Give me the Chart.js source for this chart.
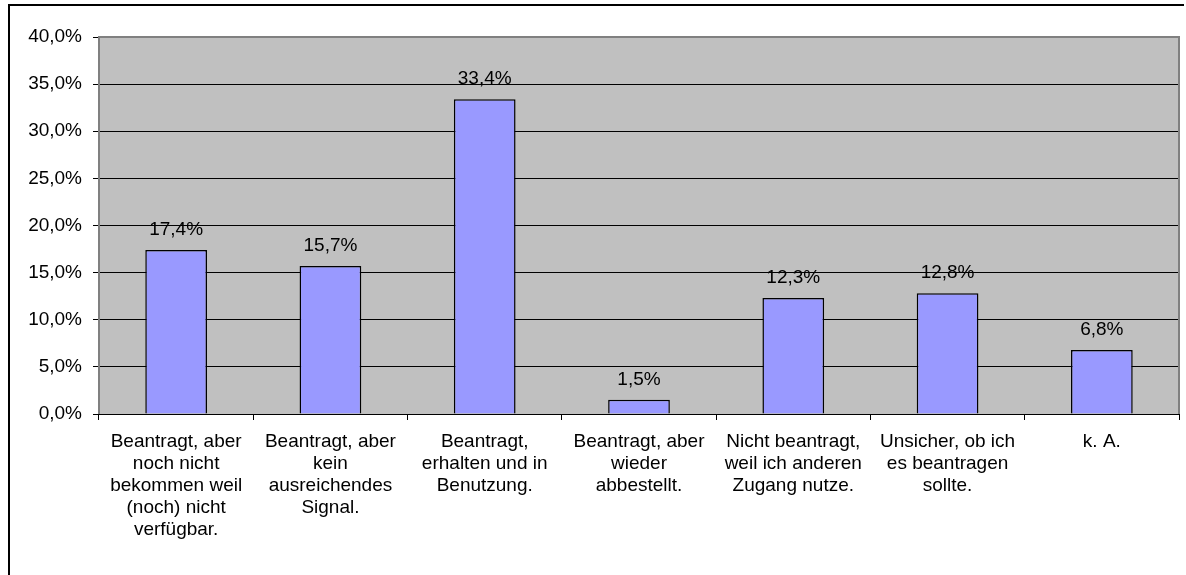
<!DOCTYPE html>
<html>
<head>
<meta charset="utf-8">
<script src="https://cdn.jsdelivr.net/npm/chart.js@4/dist/chart.umd.min.js"></script>
<style>
  html, body { margin: 0; padding: 0; background: #fff; }
  #wrap { width: 1186px; height: 575px; position: relative; }
</style>
</head>
<body>
<div id="wrap"><canvas id="chart" width="1186" height="575"></canvas></div>
<script>
// categories and values
const categories = [
  ["Beantragt, aber", "noch nicht", "bekommen weil", "(noch) nicht", "verfügbar."],
  ["Beantragt, aber", "kein", "ausreichendes", "Signal."],
  ["Beantragt,", "erhalten und in", "Benutzung."],
  ["Beantragt, aber", "wieder", "abbestellt."],
  ["Nicht beantragt,", "weil ich anderen", "Zugang nutze."],
  ["Unsicher, ob ich", "es beantragen", "sollte."],
  ["k. A."]
];
const shares = [17.4, 15.7, 33.4, 1.5, 12.3, 12.8, 6.8];
const yMin = 0, yMax = 40, yStep = 5;

const FONT = "'Liberation Sans', Arial, sans-serif";
const fmt = v => v.toFixed(1).replace(".", ",") + "%";

// grey plot background, plot frame, outer frame, value labels
const decor = {
  id: "decor",
  beforeDraw(chart){
    const {ctx, chartArea: a} = chart;
    ctx.save();
    ctx.fillStyle = "#c0c0c0";
    ctx.fillRect(a.left, a.top, a.right - a.left, a.bottom - a.top);
    ctx.restore();
  },
  afterDatasetsDraw(chart){
    const {ctx, chartArea: a} = chart;
    ctx.save();
    ctx.strokeStyle = "#808080";
    ctx.lineWidth = 2;
    ctx.beginPath();
    ctx.moveTo(a.left, a.bottom);
    ctx.lineTo(a.left, a.top);
    ctx.lineTo(a.right, a.top);
    ctx.lineTo(a.right, a.bottom);
    ctx.stroke();
    ctx.strokeStyle = "#000";
    ctx.lineWidth = 1;
    ctx.beginPath();
    ctx.moveTo(a.left, a.bottom + 0.5);
    ctx.lineTo(a.right, a.bottom + 0.5);
    ctx.stroke();

    // outer frame (only top and left edges visible in the reference)
    ctx.lineWidth = 2;
    ctx.beginPath();
    ctx.moveTo(9, 575);
    ctx.lineTo(9, 5);
    ctx.lineTo(1184, 5);
    ctx.stroke();

    ctx.fillStyle = "#000";
    ctx.font = "19px " + FONT;
    ctx.textAlign = "center";
    ctx.textBaseline = "bottom";
    chart.getDatasetMeta(0).data.forEach((bar, i) => {
      ctx.fillText(fmt(shares[i]), bar.x, bar.y - 11);
    });
    ctx.restore();
  }
};

new Chart(document.getElementById("chart"), {
  type: "bar",
  data: {
    labels: categories,
    datasets: [{
      data: shares,
      backgroundColor: "#9999ff",
      borderColor: "#000",
      borderWidth: 1.5,
      categoryPercentage: 1,
      barPercentage: 0.4
    }]
  },
  options: {
    responsive: false,
    animation: false,
    layout: { padding: { top: 37, right: 7, bottom: 0, left: 0 } },
    plugins: { legend: { display: false }, tooltip: { enabled: false } },
    scales: {
      x: {
        offset: true,
        grid: { offset: true, drawOnChartArea: false, color: "#000", tickLength: 6, tickWidth: 1 },
        border: { display: false },
        ticks: { color: "#000", font: { family: FONT, size: 19, lineHeight: 1.16 }, padding: 11, maxRotation: 0, autoSkip: false },
        afterFit: s => { s.height = 575 - 414; }
      },
      y: {
        min: yMin, max: yMax,
        ticks: { stepSize: yStep, color: "#000", font: { family: FONT, size: 19 }, padding: 11, callback: v => fmt(v) },
        grid: { color: "#000", lineWidth: 1, tickLength: 6 },
        border: { display: false },
        afterFit: s => { s.width = 99; }
      }
    }
  },
  plugins: [decor]
});
</script>
</body>
</html>
